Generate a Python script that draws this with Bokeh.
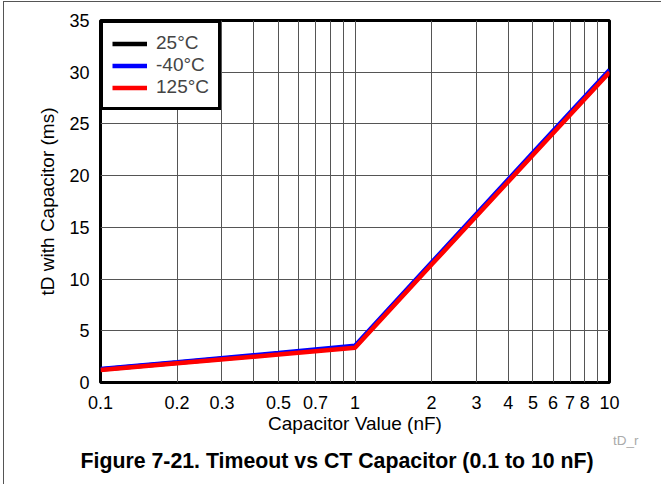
from bokeh.plotting import figure
from bokeh.models import FixedTicker, Legend, LegendItem, Title
from bokeh.embed import file_html
from bokeh.resources import INLINE

# ---- data ----
cap_nf = [0.1, 0.2, 0.5, 1, 2, 5, 10]
td_25c = [1.25, 1.9, 2.78, 3.45, 11.5, 22.1, 30.1]
td_m40c = [1.3, 1.95, 2.85, 3.55, 11.6, 22.2, 30.2]
td_125c = [1.2, 1.85, 2.7, 3.35, 11.4, 22.0, 30.0]

x_ticks = [0.1, 0.2, 0.3, 0.4, 0.5, 0.6, 0.7, 0.8, 0.9,
           1, 2, 3, 4, 5, 6, 7, 8, 9, 10]
x_tick_labels = ["0.1", "0.2", "0.3", "", "0.5", "", "0.7", "", "",
                 "1", "2", "3", "4", "5", "6", "7", "8", "", "10"]
y_ticks = [0, 5, 10, 15, 20, 25, 30, 35]

FONT = "Liberation Sans"

W, H = 658, 483
ML, MR, MT, MB = 96, 53, 18, 103

p = figure(width=W, height=H, x_axis_type="log", x_range=(0.1, 10), y_range=(0, 35),
           output_backend="svg", toolbar_location=None,
           min_border_left=ML, min_border_right=MR, min_border_top=MT, min_border_bottom=MB,
           x_axis_label="Capacitor Value (nF)", y_axis_label="tD with Capacitor (ms)")
# thin outer frame around the whole figure (left/top edges visible in the reference)
p.styles = {"margin-left": "3px", "margin-top": "1px",
            "border-left": "1px solid #555555", "border-top": "1px solid #555555"}

p.outline_line_color = "black"
p.outline_line_width = 3
p.outline_line_alpha = 1.0

for ax in (p.xaxis[0], p.yaxis[0]):
    ax.axis_line_color = None
    ax.major_tick_line_color = None
    ax.minor_tick_line_color = None
    ax.major_label_text_font = FONT
    ax.major_label_text_font_size = "18px"
    ax.major_label_text_color = "black"
    ax.axis_label_text_font = FONT
    ax.axis_label_text_font_size = "19px"
    ax.axis_label_text_font_style = "normal"
    ax.axis_label_text_color = "black"

p.xaxis.ticker = FixedTicker(ticks=x_ticks)
p.xaxis.major_label_overrides = {t: l for t, l in zip(x_ticks, x_tick_labels)}
p.xaxis.major_label_standoff = 7
p.xaxis.axis_label_standoff = 1
p.yaxis.ticker = FixedTicker(ticks=y_ticks)
p.yaxis.major_label_standoff = 5
p.yaxis.axis_label_standoff = 8

p.xgrid.ticker = FixedTicker(ticks=x_ticks)
p.ygrid.ticker = FixedTicker(ticks=y_ticks)
for g in (p.xgrid[0], p.ygrid[0]):
    g.grid_line_color = "#555555"
    g.grid_line_width = 1
    g.grid_line_alpha = 1.0

r_black = p.line(cap_nf, td_25c, line_color="black", line_width=4.5)
r_blue = p.line(cap_nf, td_m40c, line_color="#0000ff", line_width=4.5)
r_red = p.line(cap_nf, td_125c, line_color="#ff0000", line_width=4.5)

legend = Legend(items=[LegendItem(label="25°C", renderers=[r_black]),
                       LegendItem(label="-40°C", renderers=[r_blue]),
                       LegendItem(label="125°C", renderers=[r_red])],
                location="top_left", margin=0, padding=9, spacing=0,
                label_height=21, glyph_height=21, glyph_width=35, label_standoff=9,
                border_line_color="black", border_line_width=3, border_line_alpha=1.0,
                background_fill_color="white", background_fill_alpha=1.0,
                label_text_font=FONT, label_text_font_size="19px")
p.add_layout(legend)

p.add_layout(Title(text="tD_r", align="right", offset=-29, standoff=-22,
                   text_font=FONT, text_font_size="13.5px", text_font_style="normal",
                   text_color="#aaaaaa"), "below")
p.add_layout(Title(text="Figure 7-21. Timeout vs CT Capacitor (0.1 to 10 nF)",
                   align="left", offset=-20, standoff=21,
                   text_font=FONT, text_font_size="21.3px", text_font_style="bold",
                   text_color="black"), "below")

open("out.html", "w").write(file_html(p, INLINE))
